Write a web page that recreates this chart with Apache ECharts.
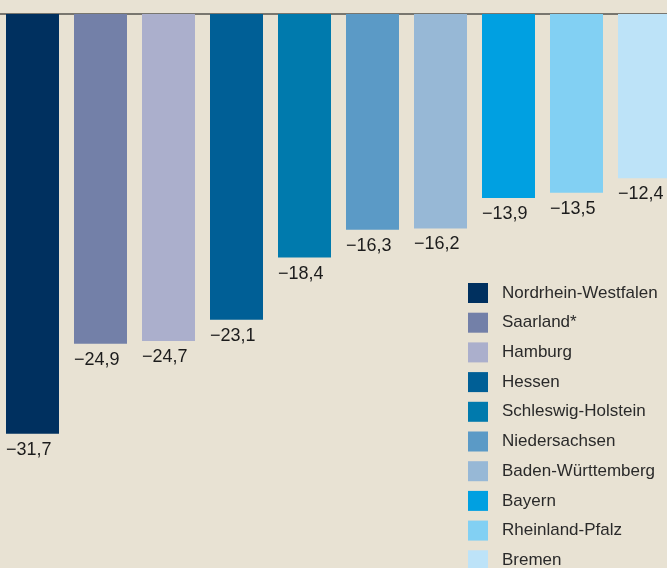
<!DOCTYPE html>
<html>
<head>
<meta charset="utf-8">
<script src="https://cdn.jsdelivr.net/npm/echarts@6/dist/echarts.min.js"></script>
<style>
  html, body { margin: 0; padding: 0; background: #e8e2d3; }
  #chart { width: 667px; height: 568px; }
</style>
</head>
<body>
<div id="chart"></div>
<script>
// Bundesländer, sorted by change (percent)
const states = [
  'Nordrhein-Westfalen', 'Saarland*', 'Hamburg', 'Hessen', 'Schleswig-Holstein',
  'Niedersachsen', 'Baden-Württemberg', 'Bayern', 'Rheinland-Pfalz', 'Bremen'
];
const values = [-31.7, -24.9, -24.7, -23.1, -18.4, -16.3, -16.2, -13.9, -13.5, -12.4];
const colors = [
  '#00305f', '#7380a8', '#abafcc', '#005f96', '#007aad',
  '#5b9ac6', '#97b8d6', '#00a0e1', '#82d0f3', '#bde3f8'
];

const fmt = v => '\u2212' + Math.abs(v).toFixed(1).replace('.', ',');

// one stacked series per state so each gets its own legend entry
const series = states.map((name, i) => ({
  name: name,
  type: 'bar',
  stack: 'all',
  barWidth: 53,
  data: values.map((v, j) => (j === i ? v : '-')),
  itemStyle: { color: colors[i] },
  label: {
    show: true,
    position: 'bottom',
    distance: 7,
    align: 'left',
    offset: [-26.5, 0],
    color: '#1c1c1c',
    fontFamily: 'Liberation Sans',
    fontSize: 18,
    formatter: p => fmt(p.value)
  }
}));

const chart = echarts.init(document.getElementById('chart'));
chart.setOption({
  backgroundColor: '#e8e2d3',
  animation: false,
  grid: {
    left: -1.5, width: 680, top: 14, height: 463.4,
    containLabel: false, outerBoundsMode: 'none'
  },
  xAxis: {
    type: 'category',
    position: 'top',
    data: states,
    axisLine: { show: true, lineStyle: { color: '#78766f', width: 2 } },
    axisTick: { show: false },
    axisLabel: { show: false }
  },
  yAxis: {
    type: 'value',
    min: -35,
    max: 0,
    show: false,
    splitLine: { show: false }
  },
  legend: {
    orient: 'vertical',
    left: 468,
    top: 283,
    height: 320,
    padding: 0,
    itemWidth: 20,
    itemHeight: 20,
    itemGap: 9.7,
    icon: 'rect',
    data: states,
    textStyle: {
      color: '#2a2a2a',
      fontFamily: 'Liberation Sans',
      fontSize: 17,
      lineHeight: 20,
      padding: [0, 0, 0, 9]
    }
  },
  series: series
});
</script>
</body>
</html>
